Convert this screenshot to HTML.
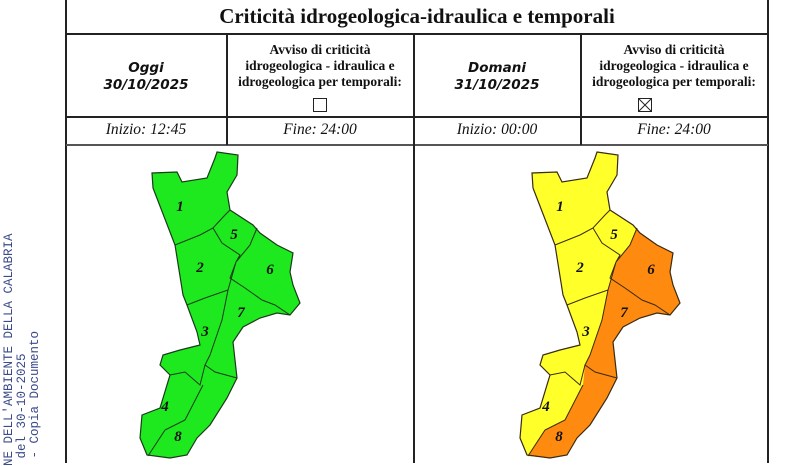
<!DOCTYPE html>
<html><head><meta charset="utf-8"><style>
body{margin:0;width:798px;height:463px;background:#fff;overflow:hidden;position:relative;font-family:"Liberation Serif",serif;}
.abs{position:absolute}
.l{background:#222;position:absolute}
.c{position:absolute;text-align:center;color:#111}
.side{position:absolute;transform-origin:0 0;transform:rotate(-90deg);font-family:"Liberation Mono",monospace;font-size:12.5px;line-height:13px;color:#3a4a8a;white-space:pre}
</style></head><body>
<div class="side" style="left:3px;top:466px;">NE DELL'AMBIENTE DELLA CALABRIA
 del 30-10-2025
 - Copia Documento</div>
<div class="l" style="left:65px;top:0;width:2px;height:463px"></div>
<div class="l" style="left:767px;top:0;width:2px;height:463px"></div>
<div class="l" style="left:66px;top:33px;width:702px;height:2px"></div>
<div class="l" style="left:66px;top:116px;width:702px;height:2px"></div>
<div class="l" style="left:66px;top:144px;width:702px;height:2px;background:#555"></div>
<div class="l" style="left:226px;top:34px;width:2px;height:111px"></div>
<div class="l" style="left:413px;top:34px;width:2px;height:429px"></div>
<div class="l" style="left:580px;top:34px;width:2px;height:111px"></div>
<div class="c" style="left:66px;width:702px;top:4px;font-size:21px;font-weight:bold;">Criticità idrogeologica-idraulica e temporali</div>
<div class="c" style="left:66px;width:160px;top:60px;font-family:'DejaVu Sans',sans-serif;font-style:italic;font-weight:bold;font-size:13.5px;line-height:17px">Oggi<br>30/10/2025</div>
<div class="c" style="left:414px;width:166px;top:60px;font-family:'DejaVu Sans',sans-serif;font-style:italic;font-weight:bold;font-size:13.5px;line-height:17px">Domani<br>31/10/2025</div>
<div class="c" style="left:227px;width:186px;top:42px;font-weight:bold;font-size:13.5px;line-height:16px">Avviso di criticità<br>idrogeologica - idraulica e<br>idrogeologica per temporali:</div>
<div class="c" style="left:581px;width:186px;top:42px;font-weight:bold;font-size:13.5px;line-height:16px">Avviso di criticità<br>idrogeologica - idraulica e<br>idrogeologica per temporali:</div>
<div class="abs" style="left:313px;top:98px;width:12px;height:12px;border:1px solid #222"></div>
<svg class="abs" style="left:638px;top:98px" width="14" height="14"><rect x="0.5" y="0.5" width="13" height="13" fill="none" stroke="#222"/><path d="M1 1L13 13M13 1L1 13" stroke="#222"/></svg>
<div class="c" style="left:66px;width:160px;top:121px;font-style:italic;font-size:15.5px">Inizio: 12:45</div>
<div class="c" style="left:227px;width:186px;top:121px;font-style:italic;font-size:15.5px">Fine: 24:00</div>
<div class="c" style="left:414px;width:166px;top:121px;font-style:italic;font-size:15.5px">Inizio: 00:00</div>
<div class="c" style="left:581px;width:186px;top:121px;font-style:italic;font-size:15.5px">Fine: 24:00</div>
<svg class="abs" style="left:0;top:0" width="798" height="463">
<defs>
<path id="outline" d="M217,152 L238,155 L237,175 L227,192 L230,210 L253,225 L260,233 L277,245 L293,253 L290,272 L293,285 L300,303 L290,315 L277,313 L260,318 L243,327 L233,342 L237,378 L227,398 L210,425 L197,438 L187,455 L170,458 L147,455 L140,438 L142,415 L160,408 L170,375 L160,365 L163,355 L180,350 L200,345 L197,332 L187,305 L183,295 L175,245 L153,188 L152,173 L177,172 L182,182 L207,178 L215,158 Z"/>
<path id="inner" d="M175,245 L200,235 L213,228 L225,215 L230,210 M213,228 L222,243 L240,255 L236,262 M257,228 L250,245 L236,262 M236,262 L230,278 L245,288 L262,300 L275,305 L290,315 M187,305 L205,298 L228,290 L236,262 M228,290 L222,320 L210,355 L205,365 L215,372 L237,378 M170,375 L185,372 L200,385 L205,365 M203,385 L185,420 L165,430 L148,456"/>
<path id="orange" d="M257,228 L250,245 L236,262 L228,290 L222,320 L210,355 L205,365 L203,385 L185,420 L165,430 L148,456 L170,458 L187,455 L197,438 L210,425 L227,398 L237,378 L233,342 L243,327 L260,318 L277,313 L290,315 L300,303 L293,285 L290,272 L293,253 L277,245 L260,233 Z"/>
</defs>
<g>
<use href="#outline" fill="#1ee81e"/>
<use href="#inner" fill="none" stroke="#1a3a1a" stroke-width="1"/>
<use href="#outline" fill="none" stroke="#1a3a1a" stroke-width="1.2"/>
</g>
<g transform="translate(380,0)">
<use href="#outline" fill="#ffff2a"/>
<use href="#orange" fill="#ff8a10"/>
<use href="#inner" fill="none" stroke="#3a2a10" stroke-width="1"/>
<use href="#outline" fill="none" stroke="#3a2a10" stroke-width="1.2"/>
</g>
<g font-family="Liberation Serif" font-style="italic" font-weight="bold" font-size="15" fill="#111" text-anchor="middle">
<text x="180" y="211">1</text><text x="234" y="239">5</text><text x="200" y="272">2</text><text x="270" y="274">6</text><text x="241" y="317">7</text><text x="205" y="336">3</text><text x="165" y="411">4</text><text x="178" y="441">8</text>
<text x="560" y="211">1</text><text x="614" y="239">5</text><text x="580" y="272">2</text><text x="651" y="274">6</text><text x="624" y="317">7</text><text x="586" y="336">3</text><text x="546" y="411">4</text><text x="559" y="441">8</text>
</g>
</svg>
</body></html>
